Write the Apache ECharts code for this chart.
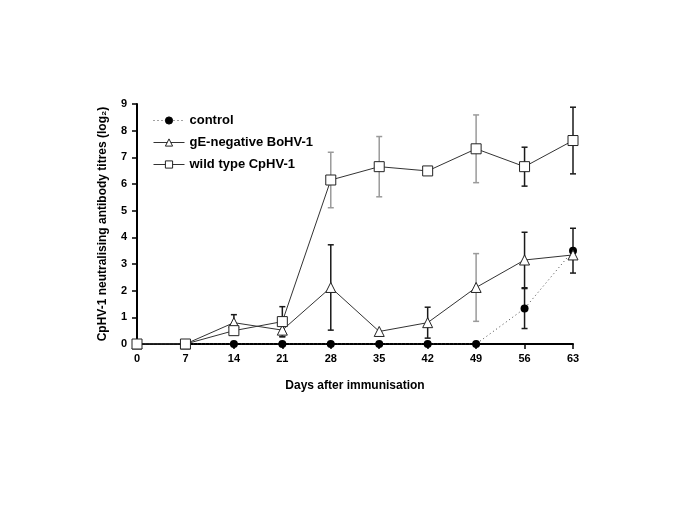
<!DOCTYPE html>
<html>
<head>
<meta charset="utf-8">
<script src="https://cdn.jsdelivr.net/npm/echarts@6/dist/echarts.min.js"></script>
<style>
  html, body { margin: 0; padding: 0; background: #fff; }
  #chart { width: 685px; height: 513px; }
</style>
</head>
<body>
<div id="chart"></div>
<script>
let days = [0, 7, 14, 21, 28, 35, 42, 49, 56, 63]

let control = [0, 0, 0, 0, 0, 0, 0, 0, 1.33, 3.5]
let controlErr = [0, 0, 0, 0, 0, 0, 0, 0, 0.75, 0.84]

let gENegative = [0, 0, 0.8, 0.52, 2.12, 0.47, 0.8, 2.12, 3.15, 3.34]
let gENegativeErr = [0, 0, 0.3, 0.25, 1.6, 0, 0.58, 1.27, 1.04, 0.15]

let wildType = [0, 0, 0.5, 0.84, 6.15, 6.65, 6.49, 7.32, 6.65, 7.63]
let wildTypeErr = [0, 0, 0, 0.56, 1.04, 1.13, 0, 1.27, 0.73, 1.25]

let yTicks = [0, 1, 2, 3, 4, 5, 6, 7, 8, 9]

// error bars drawn in grey in the original figure
let greyBars = { wild: [28, 35, 49], gE: [49] }

let fontFamily = '"Liberation Sans", Arial, sans-serif'

function toPoints(values) {
  return days.map((d, i) => [d, values[i]])
}

function toBars(values, errs) {
  return days
    .map((d, i) => [d, values[i] - errs[i], values[i] + errs[i]])
    .filter((b, i) => errs[i] > 0)
}

function errorBarSeries(name, values, errs, greys) {
  return {
    type: 'custom',
    name: name + ' (sd)',
    z: 1,
    silent: true,
    data: toBars(values, errs),
    renderItem: function (params, api) {
      let x = api.value(0)
      let lo = api.coord([x, Math.max(api.value(1), 0)])
      let hi = api.coord([x, api.value(2)])
      let cap = 3
      let color = greys.indexOf(x) >= 0 ? '#9a9a9a' : '#1a1a1a'
      let style = { stroke: color, lineWidth: 1.5 }
      return {
        type: 'group',
        children: [
          { type: 'line', shape: { x1: hi[0], y1: hi[1], x2: lo[0], y2: lo[1] }, style: style },
          { type: 'line', shape: { x1: hi[0] - cap, y1: hi[1], x2: hi[0] + cap, y2: hi[1] }, style: style },
          { type: 'line', shape: { x1: lo[0] - cap, y1: lo[1], x2: lo[0] + cap, y2: lo[1] }, style: style }
        ]
      }
    }
  }
}

let chart = echarts.init(document.getElementById('chart'), null, { renderer: 'canvas' })

chart.setOption({
  backgroundColor: '#fff',
  animation: false,
  textStyle: { fontFamily: fontFamily },
  grid: { left: 137, right: 112, top: 104, bottom: 169 },
  legend: {
    orient: 'vertical',
    left: 148,
    top: 109,
    itemWidth: 31,
    itemHeight: 9,
    itemGap: 9,
    data: ['control', 'gE-negative BoHV-1', 'wild type CpHV-1'],
    lineStyle: { width: 1 },
    itemStyle: { borderWidth: 1 },
    textStyle: { fontFamily: fontFamily, fontWeight: 'bold', fontSize: 13, color: '#000' }
  },
  xAxis: {
    type: 'value',
    min: 0,
    max: 63,
    interval: 7,
    name: 'Days after immunisation',
    nameLocation: 'middle',
    nameGap: 36,
    nameTextStyle: { fontFamily: fontFamily, fontWeight: 'bold', fontSize: 12, color: '#000' },
    axisLine: { onZero: false, lineStyle: { color: '#000', width: 2 } },
    axisTick: { show: true, length: 5, lineStyle: { color: '#000', width: 1.5 } },
    axisLabel: { fontFamily: fontFamily, fontWeight: 'bold', fontSize: 11, color: '#000', margin: 9 },
    splitLine: { show: false }
  },
  yAxis: {
    type: 'value',
    min: 0,
    max: 9,
    interval: 1,
    name: 'CpHV-1 neutralising antibody titres (log\u2082)',
    nameLocation: 'middle',
    nameGap: 28,
    nameTextStyle: { fontFamily: fontFamily, fontWeight: 'bold', fontSize: 12, color: '#000' },
    axisLine: { show: true, lineStyle: { color: '#000', width: 2 } },
    axisTick: { show: true, length: 5, lineStyle: { color: '#000', width: 1.5 } },
    axisLabel: {
      fontFamily: fontFamily, fontWeight: 'bold', fontSize: 11, color: '#000', margin: 10,
      formatter: v => yTicks.indexOf(v) >= 0 ? String(v) : ''
    },
    splitLine: { show: false }
  },
  series: [
    errorBarSeries('control', control, controlErr, []),
    errorBarSeries('gE-negative BoHV-1', gENegative, gENegativeErr, greyBars.gE),
    errorBarSeries('wild type CpHV-1', wildType, wildTypeErr, greyBars.wild),
    {
      name: 'control',
      type: 'line',
      z: 3,
      data: toPoints(control),
      symbol: 'circle',
      symbolSize: 8,
      itemStyle: { color: '#000', borderColor: '#000', borderWidth: 0 },
      lineStyle: { color: '#444', width: 1, type: [1, 3] }
    },
    {
      name: 'gE-negative BoHV-1',
      type: 'line',
      z: 4,
      data: toPoints(gENegative),
      symbol: 'triangle',
      symbolSize: 10,
      itemStyle: { color: '#fff', borderColor: '#222', borderWidth: 1 },
      lineStyle: { color: '#333', width: 1 }
    },
    {
      name: 'wild type CpHV-1',
      type: 'line',
      z: 5,
      data: toPoints(wildType),
      symbol: 'rect',
      symbolSize: 10,
      itemStyle: { color: '#fff', borderColor: '#222', borderWidth: 1 },
      lineStyle: { color: '#333', width: 1 }
    }
  ]
})
</script>
</body>
</html>
